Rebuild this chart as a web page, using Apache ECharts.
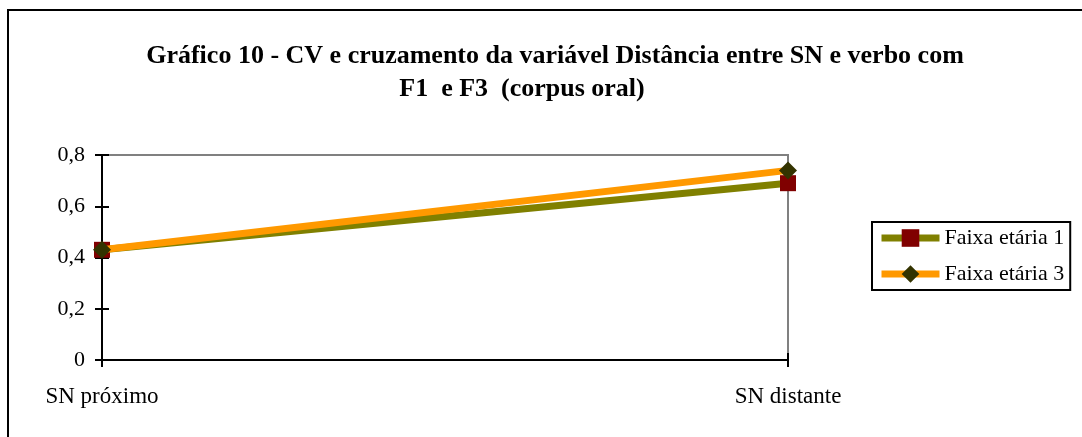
<!DOCTYPE html>
<html>
<head>
<meta charset="utf-8">
<script src="https://cdn.jsdelivr.net/npm/echarts@6/dist/echarts.min.js"></script>
<style>
html,body{margin:0;padding:0;background:#fff;}
#chart{width:1082px;height:437px;}
</style>
</head>
<body>
<div id="chart"></div>
<script>
var categories = ['SN próximo', 'SN distante'];
var faixa1 = [0.43, 0.69];
var faixa3 = [0.43, 0.74];
var seriesNames = ['Faixa etária 1', 'Faixa etária 3'];
var titleLine1 = 'Gráfico 10 - CV e cruzamento da variável Distância entre SN e verbo com';
var titleLine2 = 'F1  e F3  (corpus oral)';

var font = 'Liberation Serif';
var chart = echarts.init(document.getElementById('chart'));
var fmt = function (v) { return String(v).replace('.', ','); };

chart.setOption({
  animation: false,
  backgroundColor: '#fff',
  title: [
    { text: titleLine1, left: 555, top: 43, textAlign: 'center', padding: 0,
      textStyle: { fontFamily: font, fontWeight: 'bold', fontSize: 26, color: '#000' } },
    { text: titleLine2, left: 522, top: 76, textAlign: 'center', padding: 0,
      textStyle: { fontFamily: font, fontWeight: 'bold', fontSize: 26, color: '#000' } }
  ],
  graphic: [
    { type: 'rect', shape: { x: 8, y: 10, width: 1200, height: 600 },
      style: { fill: 'none', stroke: '#000', lineWidth: 2 }, silent: true, z: -1 }
  ],
  grid: { left: 102, right: 294, top: 155, bottom: 77, show: true, borderColor: '#808080', borderWidth: 2, backgroundColor: 'transparent' },
  legend: {
    orient: 'vertical', left: 872, top: 222,
    padding: [5, 6, 5, 6], itemGap: 14, itemWidth: 58, itemHeight: 22,
    borderColor: '#000', borderWidth: 2, backgroundColor: '#fff',
    lineStyle: { width: 7 },
    textStyle: { fontFamily: font, fontSize: 22, color: '#000' },
    data: seriesNames
  },
  xAxis: [
    { type: 'category', data: categories, boundaryGap: false,
      axisLine: { lineStyle: { color: '#000', width: 2 } },
      axisTick: { show: true, inside: false, length: 7, lineStyle: { color: '#000', width: 2 } },
      axisLabel: { fontFamily: font, fontSize: 23, color: '#000', margin: 25 },
      splitLine: { show: false } },
    { type: 'category', data: categories, boundaryGap: false, position: 'bottom',
      axisLine: { show: false },
      axisTick: { show: true, inside: true, length: 7, lineStyle: { color: '#000', width: 2 } },
      axisLabel: { show: false }, splitLine: { show: false } }
  ],
  yAxis: [
    { type: 'value', min: 0, max: 0.8, interval: 0.2,
      axisLine: { show: true, lineStyle: { color: '#000', width: 2 } },
      axisTick: { show: true, inside: false, length: 7, lineStyle: { color: '#000', width: 2 } },
      axisLabel: { fontFamily: font, fontSize: 22, color: '#000', margin: 17, formatter: fmt },
      splitLine: { show: false } },
    { type: 'value', min: 0, max: 0.8, interval: 0.2, position: 'left',
      axisLine: { show: false },
      axisTick: { show: true, inside: true, length: 7, lineStyle: { color: '#000', width: 2 } },
      axisLabel: { show: false }, splitLine: { show: false } }
  ],
  series: [
    { name: seriesNames[0], type: 'line', data: faixa1,
      lineStyle: { color: '#808000', width: 7 },
      itemStyle: { color: '#800000', borderColor: '#800000', borderWidth: 0 },
      color: '#808000',
      symbol: 'rect', symbolSize: 16, showAllSymbol: true, z: 3 },
    { name: seriesNames[1], type: 'line', data: faixa3,
      lineStyle: { color: '#FF9900', width: 7 },
      itemStyle: { color: '#333300', borderWidth: 0 },
      color: '#FF9900',
      symbol: 'diamond', symbolSize: 18, showAllSymbol: true, z: 4 }
  ]
});
</script>
</body>
</html>
